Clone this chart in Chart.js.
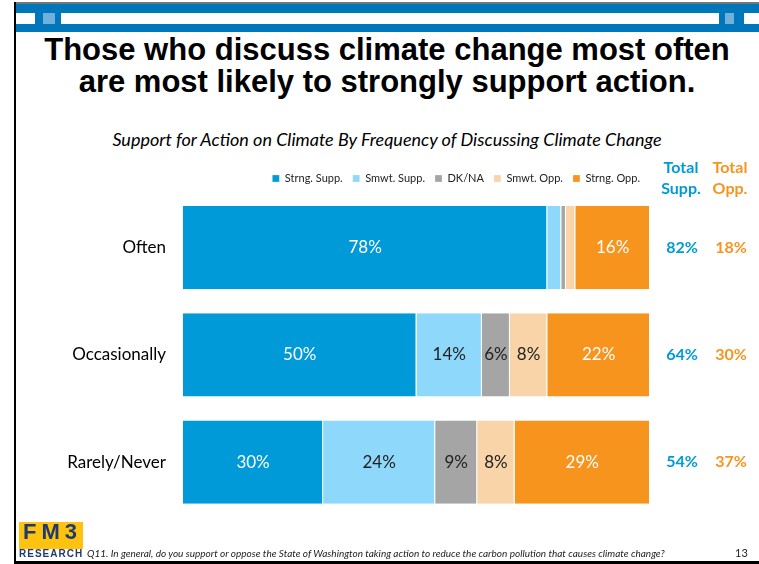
<!DOCTYPE html>
<html>
<head>
<meta charset="utf-8">
<script src="https://cdn.jsdelivr.net/npm/chart.js@4.4.1/dist/chart.umd.min.js"></script>
<style>
    body { margin: 0; background: #fff; }
    #page { position: relative; width: 759px; height: 564px; overflow: hidden; background: #fff; font-family: Lato, "Open Sans", sans-serif; }
    .abs { position: absolute; }
    #topline { left: 15px; top: 2px; width: 744px; height: 2px; background: #777; }
    #band { left: 15px; top: 4px; width: 744px; height: 28px; background: #0077bb; }
    .stripe { top: 13px; height: 11px; background: #fff; }
    .sq { top: 13px; height: 11px; background: #6fb0dc; }
    #leftline { left: 14px; top: 2px; width: 2px; height: 562px; background: #000; }
    #bottomline { left: 14px; top: 561px; width: 745px; height: 3px; background: #000; }
    #title { left: 15px; top: 34px; width: 744px; text-align: center; font-family: "Liberation Sans", Arial, sans-serif; font-weight: bold; font-size: 31px; line-height: 32px; color: #000; }
    #subtitle { left: 15px; top: 128px; width: 744px; text-align: center; font-style: italic; font-size: 18px; line-height: 22px; color: #000; }
    #chartBox { left: 0; top: 155px; line-height: 0; }
    #logo { left: 19px; top: 522px; width: 64px; height: 27px; background: #ffc20e; color: #1e3a6e; font-family: "Liberation Sans", Arial, sans-serif; font-weight: bold; font-size: 22px; line-height: 20px; letter-spacing: 5px; text-indent: 4px; }
    #research { left: 19px; top: 548px; color: #1e3a6e; font-family: "Liberation Sans", Arial, sans-serif; font-weight: bold; font-size: 10px; letter-spacing: 1px; }
    #footnote { left: 87px; top: 547px; font-style: italic; font-size: 10px; color: #222; }
    #pagenum { left: 735px; top: 546px; font-size: 11px; color: #222; }
</style>
</head>
<body>
<div id="page">
    <div class="abs" id="topline"></div>
    <div class="abs" id="band"></div>
    <div class="abs stripe" style="left:16px;width:19px"></div>
    <div class="abs sq" style="left:43px;width:12px"></div>
    <div class="abs stripe" style="left:61px;width:658px"></div>
    <div class="abs sq" style="left:725px;width:9px"></div>
    <div class="abs stripe" style="left:744px;width:15px"></div>
    <div class="abs" id="leftline"></div>

    <div class="abs" id="title">Those who discuss climate change most often<br>are most likely to strongly support action.</div>
    <div class="abs" id="subtitle">Support for Action on Climate By Frequency of Discussing Climate Change</div>

    <div class="abs" id="chartBox"><canvas id="chart" width="759" height="388"></canvas></div>

    <div class="abs" id="logo">FM3</div>
    <div class="abs" id="research">RESEARCH</div>
    <div class="abs" id="footnote">Q11. In general, do you support or oppose the State of Washington taking action to reduce the carbon pollution that causes climate change?</div>
    <div class="abs" id="pagenum">13</div>
    <div class="abs" id="bottomline"></div>
</div>

<script>
    const categories = ['Often', 'Occasionally', 'Rarely/Never'];
    const strongSupp = [78, 50, 30];
    const smwtSupp = [3, 14, 24];
    const dkNa = [1, 6, 9];
    const smwtOpp = [2, 8, 8];
    const strongOpp = [16, 22, 29];
    const totalSupp = [82, 64, 54];
    const totalOpp = [18, 30, 37];

    const BLUE = '#009ad9';
    const ORANGE = '#f7941d';
    const FONT = 'Lato, "Open Sans", sans-serif';

    // etiquetas dentro de las barras
    const barLabels = {
        id: 'barLabels',
        afterDatasetsDraw(chart) {
            const ctx = chart.ctx;
            ctx.save();
            ctx.font = '17px ' + FONT;
            ctx.textAlign = 'center';
            ctx.textBaseline = 'middle';
            chart.data.datasets.forEach((ds, i) => {
                const meta = chart.getDatasetMeta(i);
                meta.data.forEach((bar, j) => {
                    const v = ds.data[j];
                    if (v < 5) return;
                    ctx.fillStyle = ds.labelColor;
                    ctx.fillText(v + '%', (bar.x + bar.base) / 2, bar.y);
                });
            });
            ctx.restore();
        }
    };

    // columnas de totales a la derecha
    const totals = {
        id: 'totals',
        afterDraw(chart) {
            const ctx = chart.ctx;
            const y = chart.scales.y;
            ctx.save();
            ctx.font = 'bold 16px ' + FONT;
            ctx.textAlign = 'center';
            ctx.textBaseline = 'middle';
            ctx.fillStyle = BLUE;
            ctx.fillText('Total', 681, 13);
            ctx.fillText('Supp.', 681, 34);
            ctx.fillStyle = ORANGE;
            ctx.fillText('Total', 730, 13);
            ctx.fillText('Opp.', 730, 34);
            categories.forEach((c, i) => {
                const py = y.getPixelForValue(i);
                ctx.fillStyle = BLUE;
                ctx.fillText(totalSupp[i] + '%', 682, py);
                ctx.fillStyle = ORANGE;
                ctx.fillText(totalOpp[i] + '%', 731, py);
            });
            ctx.restore();
        }
    };

    function makeSet(label, data, color, labelColor) {
        return {
            label: label,
            data: data,
            backgroundColor: color,
            borderColor: '#ffffff',
            borderWidth: { top: 0, bottom: 0, left: 0, right: 1 },
            borderSkipped: false,
            labelColor: labelColor
        };
    }

    new Chart(document.getElementById('chart'), {
        type: 'bar',
        data: {
            labels: categories,
            datasets: [
                makeSet('Strng. Supp.', strongSupp, BLUE, '#ffffff'),
                makeSet('Smwt. Supp.', smwtSupp, '#8dd8fb', '#222222'),
                makeSet('DK/NA', dkNa, '#a5a5a5', '#222222'),
                makeSet('Smwt. Opp.', smwtOpp, '#f9d4a8', '#222222'),
                makeSet('Strng. Opp.', strongOpp, ORANGE, '#ffffff')
            ]
        },
        options: {
            indexAxis: 'y',
            responsive: false,
            animation: false,
            devicePixelRatio: 1,
            layout: { padding: { top: 8, right: 109, bottom: 0, left: 0 } },
            datasets: { bar: { categoryPercentage: 1, barPercentage: 0.775 } },
            scales: {
                x: { stacked: true, min: 0, max: 100, display: false },
                y: {
                    stacked: true,
                    grid: { display: false, drawTicks: false },
                    border: { display: false },
                    ticks: { color: '#000', font: { size: 17, family: FONT }, padding: 17 },
                    afterFit: (s) => { s.width = 183; }
                }
            },
            plugins: {
                tooltip: { enabled: false },
                legend: {
                    position: 'top',
                    align: 'end',
                    fullSize: false,
                    labels: {
                        boxWidth: 7,
                        boxHeight: 7,
                        padding: 10,
                        color: '#222',
                        font: { size: 11, family: FONT }
                    }
                }
            }
        },
        plugins: [barLabels, totals]
    });
</script>
</body>
</html>
